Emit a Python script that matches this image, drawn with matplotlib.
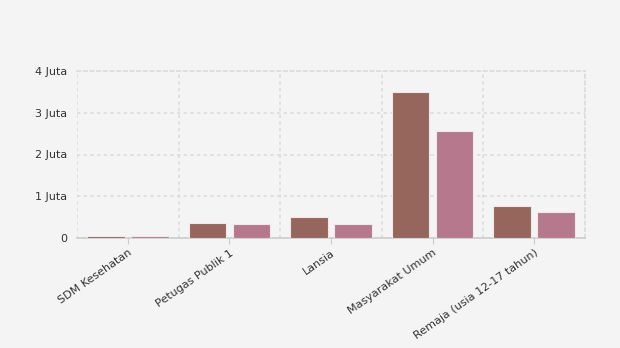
import matplotlib.pyplot as plt
import numpy as np

categories = [
    "SDM Kesehatan",
    "Petugas Publik 1",
    "Lansia",
    "Masyarakat Umum",
    "Remaja (usia 12-17 tahun)",
]
dose_1 = [0.05, 0.36, 0.51, 3.50, 0.77]  # juta
dose_2 = [0.04, 0.34, 0.34, 2.57, 0.63]  # juta
y_ticks = [0, 1, 2, 3, 4]
y_labels = ["0", "1 Juta", "2 Juta", "3 Juta", "4 Juta"]

plt.rcParams["font.family"] = ["DejaVu Sans"]

fig = plt.figure(figsize=(6.2, 3.48), dpi=100, facecolor="#f4f4f4")
ax = fig.add_axes([77 / 620, 110 / 348, 508 / 620, 167 / 348])
ax.set_facecolor("#f4f4f4")

x = np.arange(len(categories))
width = 0.37
offset = 0.217
ax.bar(x - offset, dose_1, width, color="#96655c",
       edgecolor="#f0e8e8", linewidth=0.8, zorder=3)
ax.bar(x + offset, dose_2, width, color="#b5788c",
       edgecolor="#f0e8e8", linewidth=0.8, zorder=3)

ax.set_xlim(-0.5, len(categories) - 0.5)
ax.set_ylim(0, 4)
ax.set_yticks(y_ticks)
ax.set_yticklabels(y_labels)
ax.set_xticks(x)
ax.set_xticklabels(categories, rotation=35, ha="right", rotation_mode="anchor")
ax.set_xticks(np.arange(len(categories) + 1) - 0.5, minor=True)

ax.tick_params(axis="x", which="major", length=4, color="#cccccc",
               labelsize=8, labelcolor="#333333", pad=3)
ax.tick_params(axis="x", which="minor", length=0)
ax.tick_params(axis="y", length=0, labelsize=8, labelcolor="#333333", pad=7)

# dotted grid: horizontal at value ticks, vertical between categories
dots = (0, (2, 2))
ax.grid(axis="y", which="major", linestyle=dots, color="#dcdcdc", linewidth=1.2, zorder=0)
ax.grid(axis="x", which="minor", linestyle=dots, color="#dcdcdc", linewidth=1.2, zorder=0)
ax.grid(axis="x", which="major", visible=False)

ax.spines["left"].set_visible(False)
for side in ["top", "right"]:
    ax.spines[side].set_linestyle(dots)
    ax.spines[side].set_color("#dcdcdc")
    ax.spines[side].set_linewidth(1.2)
ax.spines["bottom"].set_color("#cccccc")
ax.spines["bottom"].set_linewidth(1.2)

fig.savefig("out.png", dpi=100, facecolor=fig.get_facecolor())
